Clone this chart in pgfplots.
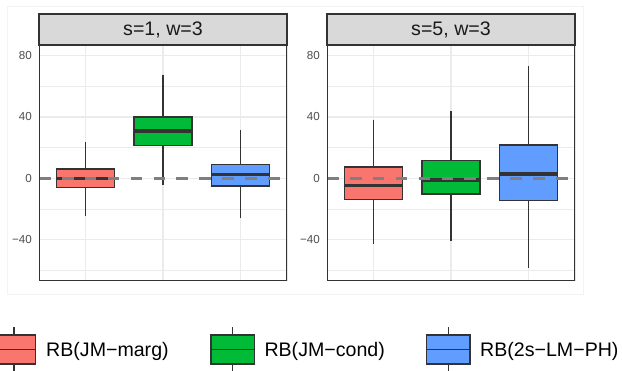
\documentclass[border=0pt]{standalone}
\usepackage{pgfplots}
\pgfplotsset{compat=1.18}
\usepgfplotslibrary{statistics}
\usepackage{fontspec}
\setmainfont{Liberation Sans}
\definecolor{cR}{HTML}{F8766D}
\definecolor{cG}{HTML}{00BA38}
\definecolor{cB}{HTML}{619CFF}
\definecolor{grey10}{HTML}{1A1A1A}
\definecolor{grey20}{HTML}{333333}
\definecolor{grey30}{HTML}{4D4D4D}
\definecolor{grey50}{HTML}{7F7F7F}
\definecolor{grey85}{HTML}{D9D9D9}
\definecolor{grey92}{HTML}{EBEBEB}
\definecolor{faint}{HTML}{F3F3F3}

\pgfplotsset{
  panel/.style={
    anchor=south west, scale only axis, width=248pt, height=236pt,
    xmin=0.4, xmax=3.6, ymin=-67.1, ymax=87.0,
    xtick={1,2,3}, xticklabels={},
    ytick={-40,0,40,80}, yticklabels={−40,0,40,80},
    minor ytick={-60,-20,20,60},
    grid=both,
    major grid style={draw=grey92, line width=1.1pt},
    minor grid style={draw=grey92, line width=0.55pt},
    major tick length=0pt, minor tick length=0pt,
    axis line style={draw=none},
    yticklabel style={font=\fontsize{11.6}{12}\selectfont, text=grey30, inner sep=0pt, xshift=-7pt},
    clip=true,
    boxplot/draw direction=y,
  },
  bx/.style={draw=grey20, line width=1.4pt},
}
\newcommand{\bp}[7]{%
  \addplot[bx, fill=#1, boxplot prepared={draw direction=y, draw position=#2,
    lower whisker=#3, lower quartile=#4, median=#5, upper quartile=#6, upper whisker=#7,
    box extend=0.75, whisker extend=0,
    every median/.style={line width=3.2pt, draw=grey20}}] coordinates {};}

\begin{document}
\begin{tikzpicture}[x=1pt,y=1pt]
\clip (0,0) rectangle (622,370);
\path[use as bounding box] (0,0) rectangle (622,370);
\draw[faint, line width=0.8pt] (7,364) rectangle (583,76);

% panel 1
\begin{axis}[panel, at={(39pt,89pt)}]
\bp{cR}{1}{-24.6}{-6.1}{-0.4}{6.1}{23.5}
\bp{cG}{2}{-4.4}{21.3}{30.9}{40.0}{67.6}
\bp{cB}{3}{-25.9}{-5.2}{2.4}{9.1}{31.3}
\addplot[grey50, line width=2.8pt, dash pattern=on 11.6pt off 11.3pt] coordinates {(0.4,0) (3.6,0)};
\draw[grey20, line width=1.5pt] (rel axis cs:0,0) rectangle (rel axis cs:1,1);
\end{axis}
\draw[grey20, fill=grey85, line width=1.5pt] (39,325) rectangle (287,356);
\node[text=grey10, font=\fontsize{19.6}{20}\selectfont] at (163,340.5) {s=1, w=3};

% panel 2
\begin{axis}[panel, at={(327pt,89pt)}]
\bp{cR}{1}{-43.1}{-13.9}{-5.0}{7.4}{38.3}
\bp{cG}{2}{-40.7}{-10.2}{-1.1}{11.5}{43.7}
\bp{cB}{3}{-58.9}{-14.4}{2.8}{21.8}{73.1}
\addplot[grey50, line width=2.8pt, dash pattern=on 11.6pt off 11.3pt] coordinates {(0.4,0) (3.6,0)};
\draw[grey20, line width=1.5pt] (rel axis cs:0,0) rectangle (rel axis cs:1,1);
\end{axis}
\draw[grey20, fill=grey85, line width=1.5pt] (327,325) rectangle (575,356);
\node[text=grey10, font=\fontsize{19.6}{20}\selectfont] at (451,340.5) {s=5, w=3};

% legend
\foreach \cx/\col/\tx/\lab in {14/cR/46/{RB(JM−marg)}, 232.7/cG/264.3/{RB(JM−cond)}, 448.3/cB/480/{RB(2s−LM−PH)}}{
  \draw[grey20, line width=1.4pt] (\cx,43) -- (\cx,35);
  \draw[grey20, line width=1.4pt] (\cx,6) -- (\cx,-2);
  \draw[grey20, fill=\col, line width=1.4pt] (\cx-21.7,6) rectangle (\cx+21.7,35);
  \draw[grey20, line width=1.4pt] (\cx-21.7,20.5) -- (\cx+21.7,20.5);
  \node[anchor=base west, inner sep=0pt, text=black, font=\fontsize{19.6}{20}\selectfont] at (\tx,13) {\lab};
}
\end{tikzpicture}
\end{document}
